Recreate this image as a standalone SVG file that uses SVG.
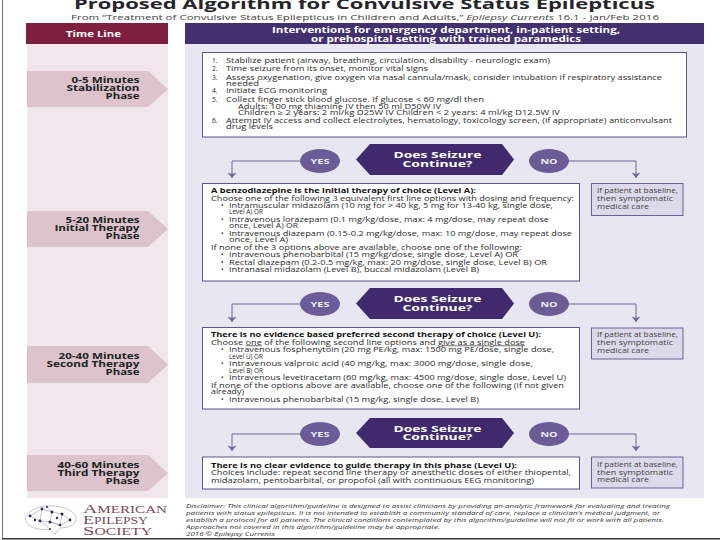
<svg xmlns="http://www.w3.org/2000/svg" width="720" height="540" viewBox="0 0 720 540">
<style>
text{font-family:"Open Sans","DejaVu Sans",sans-serif;fill:#2b2b2b}
.t{font-size:6.7px}
.b{font-size:6.9px;font-weight:700;fill:#111}
.s{font-size:7px;fill:#444}
.d{font-size:5.9px;font-style:italic;fill:#333}
.ph{font-size:8.3px;font-weight:700;text-anchor:end;fill:#222}
.hd{font-size:8.200px;font-weight:700;fill:#fff;text-anchor:middle}
.hx{font-size:9.200px;font-weight:700;fill:#fff;text-anchor:middle}
.yn{font-size:7.500px;font-weight:700;fill:#f0eef6}
.box{fill:#fff;stroke:#5d5486;stroke-width:1}
.side{fill:#dcd9ea;stroke:#6a6392;stroke-width:1}
.hex{fill:#40296c}
.el{fill:#6b5c98}
.arr{fill:#dcc3cc}
.c{fill:none;stroke:#6f6996;stroke-width:1;marker-end:url(#ah)}
.lg{font-family:"Liberation Serif",serif;fill:#7a4a5e}
.n{fill:#2f2a5c}
.w{fill:none;stroke:#8a87a8;stroke-width:.5}
</style>
<defs>
<marker id="ah" markerUnits="userSpaceOnUse" markerWidth="10" markerHeight="8" refX="4.5" refY="7" orient="0" overflow="visible"><path d="M0 1.5 L4.5 3 L9 1.5 L4.5 7Z" fill="#6f6996"/></marker>
</defs>
<rect width="720" height="540" fill="#fff"/>
<path d="M2.500 0V538" stroke="#777" stroke-width="1" fill="none"/>
<path d="M2 538.700H720" stroke="#333" stroke-width="1.500" fill="none"/>

<g id="title">
<text x="74" y="9" font-size="14.500" font-weight="700" textLength="581" lengthAdjust="spacingAndGlyphs" style="fill:#26262a">Proposed Algorithm for Convulsive Status Epilepticus</text>
<text x="71" y="19.500" font-size="7.200" textLength="588" lengthAdjust="spacingAndGlyphs" style="fill:#444">From “Treatment of Convulsive Status Epilepticus in Children and Adults,” <tspan font-style="italic">Epilepsy Currents</tspan> 16.1 - Jan/Feb 2016</text>
</g>

<g id="timeline">
<rect x="27" y="44" width="141" height="454" fill="#f1e6eb"/>
<rect x="26" y="23" width="142" height="21" fill="#7f1f3f"/>
<text class="hd" x="93.500" y="37" textLength="55" lengthAdjust="spacingAndGlyphs">Time Line</text>
</g>
<g id="interventions">
<rect x="185" y="44" width="519" height="454" fill="#e8e6f1"/>
<rect x="185" y="23" width="519" height="21" fill="#43306f"/>
<text class="hd" x="446" y="33" textLength="348" lengthAdjust="spacingAndGlyphs">Interventions for emergency department, in-patient setting,</text>
<text class="hd" x="446" y="41.500" textLength="270" lengthAdjust="spacingAndGlyphs">or prehospital setting with trained paramedics</text>
</g>

<g id="phase-1"><path class="arr" d="M27 71H148L168 89L148 107H27Z"/>
<text class="ph" x="139.500" y="83" textLength="68" lengthAdjust="spacingAndGlyphs">0-5 Minutes</text><text class="ph" x="139.500" y="91" textLength="73" lengthAdjust="spacingAndGlyphs">Stabilization</text><text class="ph" x="139.500" y="99" textLength="34" lengthAdjust="spacingAndGlyphs">Phase</text></g>
<g id="phase-2"><path class="arr" d="M27 211H148L168 229L148 247H27Z"/>
<text class="ph" x="139.500" y="223" textLength="74" lengthAdjust="spacingAndGlyphs">5-20 Minutes</text><text class="ph" x="139.500" y="231" textLength="85" lengthAdjust="spacingAndGlyphs">Initial Therapy</text><text class="ph" x="139.500" y="239" textLength="34" lengthAdjust="spacingAndGlyphs">Phase</text></g>
<g id="phase-3"><path class="arr" d="M27 346H148L168 364.500L148 383H27Z"/>
<text class="ph" x="139.500" y="359" textLength="81" lengthAdjust="spacingAndGlyphs">20-40 Minutes</text><text class="ph" x="139.500" y="367" textLength="93" lengthAdjust="spacingAndGlyphs">Second Therapy</text><text class="ph" x="139.500" y="375" textLength="34" lengthAdjust="spacingAndGlyphs">Phase</text></g>
<g id="phase-4"><path class="arr" d="M27 455H148L168 473L148 491H27Z"/>
<text class="ph" x="139.500" y="468" textLength="82" lengthAdjust="spacingAndGlyphs">40-60 Minutes</text><text class="ph" x="139.500" y="476" textLength="82" lengthAdjust="spacingAndGlyphs">Third Therapy</text><text class="ph" x="139.500" y="484" textLength="34" lengthAdjust="spacingAndGlyphs">Phase</text></g>

<g id="connectors">
<path class="c" d="M302 161H232V178"/>
<path class="c" d="M567 161H636V178"/>
<path class="c" d="M302 304H232V322"/>
<path class="c" d="M567 304H636V322"/>
<path class="c" d="M302 434H232V451"/>
<path class="c" d="M567 434H636V451"/>
</g>

<g id="stabilize"><rect class="box" x="202.500" y="52.500" width="484" height="84.500"/>
<text class="t" x="212" y="63">1.</text><text class="t" x="226" y="63" textLength="324" lengthAdjust="spacingAndGlyphs">Stabilize patient (airway, breathing, circulation, disability - neurologic exam)</text>
<text class="t" x="212" y="71">2.</text><text class="t" x="226" y="71" textLength="202" lengthAdjust="spacingAndGlyphs">Time seizure from its onset, monitor vital signs</text>
<text class="t" x="212" y="80">3.</text><text class="t" x="226" y="80" textLength="436" lengthAdjust="spacingAndGlyphs">Assess oxygenation, give oxygen via nasal cannula/mask, consider intubation if respiratory assistance</text>
<text class="t" x="226" y="85.500" textLength="33" lengthAdjust="spacingAndGlyphs">needed</text>
<text class="t" x="212" y="93">4.</text><text class="t" x="226" y="93" textLength="101" lengthAdjust="spacingAndGlyphs">Initiate ECG monitoring</text>
<text class="t" x="212" y="102">5.</text><text class="t" x="226" y="102" textLength="258" lengthAdjust="spacingAndGlyphs">Collect finger stick blood glucose. If glucose &lt; 60 mg/dl then</text>
<text class="t" x="238" y="108.500" textLength="203" lengthAdjust="spacingAndGlyphs">Adults: 100 mg thiamine IV then 50 ml D50W IV</text>
<text class="t" x="238" y="115" textLength="322" lengthAdjust="spacingAndGlyphs">Children ≥ 2 years: 2 ml/kg D25W IV   Children &lt; 2 years: 4 ml/kg D12.5W IV</text>
<text class="t" x="212" y="123">6.</text><text class="t" x="226" y="123" textLength="446" lengthAdjust="spacingAndGlyphs">Attempt IV access and collect electrolytes, hematology, toxicology screen, (if appropriate) anticonvulsant</text>
<text class="t" x="226" y="128.500" textLength="47" lengthAdjust="spacingAndGlyphs">drug levels</text></g>

<g id="q1"><path class="hex" d="M356 159.500L370 144H502L514 159.500L502 175H370Z"/>
<text class="hx" x="437.500" y="158" textLength="88" lengthAdjust="spacingAndGlyphs">Does Seizure</text><text class="hx" x="437.500" y="166.500" textLength="70" lengthAdjust="spacingAndGlyphs">Continue?</text></g>
<g id="yes-1"><ellipse class="el" cx="320" cy="161" rx="20" ry="12"/><text class="yn" x="310.500" y="164" textLength="19" lengthAdjust="spacingAndGlyphs">YES</text></g>
<g id="no-1"><ellipse class="el" cx="549" cy="161" rx="20" ry="12"/><text class="yn" x="540.500" y="164" textLength="17" lengthAdjust="spacingAndGlyphs">NO</text></g>

<g id="initial"><rect class="box" x="202.500" y="183.500" width="377" height="97.500"/>
<text class="b" x="211" y="193" textLength="265" lengthAdjust="spacingAndGlyphs">A benzodiazepine is the initial therapy of choice (Level A):</text>
<text class="t" x="211" y="200.500" textLength="363" lengthAdjust="spacingAndGlyphs">Choose one of the following 3 equivalent first line options with dosing and frequency:</text>
<text class="t" x="221" y="208">•</text><text class="t" x="229" y="208" textLength="324" lengthAdjust="spacingAndGlyphs">Intramuscular midazolam (10 mg for &gt; 40 kg, 5 mg for 13-40 kg, single dose,</text>
<text class="t" x="229" y="213.500" textLength="34" lengthAdjust="spacingAndGlyphs">Level A) OR</text>
<text class="t" x="221" y="222">•</text><text class="t" x="229" y="222" textLength="320" lengthAdjust="spacingAndGlyphs">Intravenous lorazepam (0.1 mg/kg/dose, max: 4 mg/dose, may repeat dose</text>
<text class="t" x="229" y="227.500" textLength="69" lengthAdjust="spacingAndGlyphs">once, Level A) OR</text>
<text class="t" x="221" y="236">•</text><text class="t" x="229" y="236" textLength="343" lengthAdjust="spacingAndGlyphs">Intravenous diazepam (0.15-0.2 mg/kg/dose, max: 10 mg/dose, may repeat dose</text>
<text class="t" x="229" y="241.500" textLength="59" lengthAdjust="spacingAndGlyphs">once, Level A)</text>
<text class="t" x="211" y="249.500" textLength="311" lengthAdjust="spacingAndGlyphs">If none of the 3 options above are available, choose one of the following:</text>
<text class="t" x="221" y="257">•</text><text class="t" x="229" y="257" textLength="289" lengthAdjust="spacingAndGlyphs">Intravenous phenobarbital (15 mg/kg/dose, single dose, Level A) OR</text>
<text class="t" x="221" y="264.500">•</text><text class="t" x="229" y="264.500" textLength="318" lengthAdjust="spacingAndGlyphs">Rectal diazepam (0.2-0.5 mg/kg, max: 20 mg/dose, single dose, Level B) OR</text>
<text class="t" x="221" y="272">•</text><text class="t" x="229" y="272" textLength="250" lengthAdjust="spacingAndGlyphs">Intranasal midazolam (Level B), buccal midazolam (Level B)</text></g>
<g id="side-1"><rect class="side" x="591.500" y="183.500" width="91.500" height="32"/>
<text class="s" x="597" y="192.500" textLength="81" lengthAdjust="spacingAndGlyphs">If patient at baseline,</text><text class="s" x="597" y="200.500" textLength="76" lengthAdjust="spacingAndGlyphs">then symptomatic</text><text class="s" x="597" y="208.500" textLength="52" lengthAdjust="spacingAndGlyphs">medical care</text></g>

<g id="q2"><path class="hex" d="M356 303.500L370 288H502L514 303.500L502 319H370Z"/>
<text class="hx" x="437.500" y="302" textLength="88" lengthAdjust="spacingAndGlyphs">Does Seizure</text><text class="hx" x="437.500" y="310.500" textLength="70" lengthAdjust="spacingAndGlyphs">Continue?</text></g>
<g id="yes-2"><ellipse class="el" cx="320" cy="304" rx="20" ry="12"/><text class="yn" x="310.500" y="307" textLength="19" lengthAdjust="spacingAndGlyphs">YES</text></g>
<g id="no-2"><ellipse class="el" cx="549" cy="304" rx="20" ry="12"/><text class="yn" x="540.500" y="307" textLength="17" lengthAdjust="spacingAndGlyphs">NO</text></g>

<g id="second"><rect class="box" x="202.500" y="327.500" width="377" height="81.500"/>
<text class="b" x="211" y="337" textLength="330" lengthAdjust="spacingAndGlyphs">There is no evidence based preferred second therapy of choice (Level U):</text>
<text class="t" x="211" y="344.500" textLength="314" lengthAdjust="spacingAndGlyphs">Choose <tspan text-decoration="underline">one</tspan> of the following second line options and <tspan text-decoration="underline">give as a single dose</tspan></text>
<text class="t" x="221" y="352">•</text><text class="t" x="229" y="352" textLength="325" lengthAdjust="spacingAndGlyphs">Intravenous fosphenytoin (20 mg PE/kg, max: 1500 mg PE/dose, single dose,</text>
<text class="t" x="229" y="358.500" textLength="34" lengthAdjust="spacingAndGlyphs">Level U) OR</text>
<text class="t" x="221" y="366">•</text><text class="t" x="229" y="366" textLength="304" lengthAdjust="spacingAndGlyphs">Intravenous valproic acid (40 mg/kg, max: 3000 mg/dose, single dose,</text>
<text class="t" x="229" y="372.500" textLength="34" lengthAdjust="spacingAndGlyphs">Level B) OR</text>
<text class="t" x="221" y="380">•</text><text class="t" x="229" y="380" textLength="337" lengthAdjust="spacingAndGlyphs">Intravenous levetiracetam (60 mg/kg, max: 4500 mg/dose, single dose, Level U)</text>
<text class="t" x="211" y="387.500" textLength="353" lengthAdjust="spacingAndGlyphs">If none of the options above are available, choose one of the following (if not given</text>
<text class="t" x="211" y="393.500" textLength="33" lengthAdjust="spacingAndGlyphs">already)</text>
<text class="t" x="221" y="402">•</text><text class="t" x="229" y="402" textLength="250" lengthAdjust="spacingAndGlyphs">Intravenous phenobarbital (15 mg/kg, single dose, Level B)</text></g>
<g id="side-2"><rect class="side" x="591.500" y="328" width="91.500" height="31"/>
<text class="s" x="597" y="337" textLength="81" lengthAdjust="spacingAndGlyphs">If patient at baseline,</text><text class="s" x="597" y="344.500" textLength="76" lengthAdjust="spacingAndGlyphs">then symptomatic</text><text class="s" x="597" y="352.500" textLength="52" lengthAdjust="spacingAndGlyphs">medical care</text></g>

<g id="q3"><path class="hex" d="M356 433L370 418H502L514 433L502 448H370Z"/>
<text class="hx" x="437.500" y="431.500" textLength="88" lengthAdjust="spacingAndGlyphs">Does Seizure</text><text class="hx" x="437.500" y="440" textLength="70" lengthAdjust="spacingAndGlyphs">Continue?</text></g>
<g id="yes-3"><ellipse class="el" cx="320" cy="434" rx="20" ry="12"/><text class="yn" x="310.500" y="437" textLength="19" lengthAdjust="spacingAndGlyphs">YES</text></g>
<g id="no-3"><ellipse class="el" cx="549" cy="434" rx="20" ry="12"/><text class="yn" x="540.500" y="437" textLength="17" lengthAdjust="spacingAndGlyphs">NO</text></g>

<g id="third"><rect class="box" x="202.500" y="457" width="377" height="32"/>
<text class="b" x="211" y="467.500" textLength="306" lengthAdjust="spacingAndGlyphs">There is no clear evidence to guide therapy in this phase (Level U):</text>
<text class="t" x="211" y="475" textLength="360" lengthAdjust="spacingAndGlyphs">Choices include: repeat second line therapy or anesthetic doses of either thiopental,</text>
<text class="t" x="211" y="482.500" textLength="323" lengthAdjust="spacingAndGlyphs">midazolam, pentobarbital, or propofol (all with continuous EEG monitoring)</text></g>
<g id="side-3"><rect class="side" x="591.500" y="457" width="91.500" height="31"/>
<text class="s" x="597" y="466.500" textLength="81" lengthAdjust="spacingAndGlyphs">If patient at baseline,</text><text class="s" x="597" y="474.500" textLength="76" lengthAdjust="spacingAndGlyphs">then symptomatic</text><text class="s" x="597" y="482" textLength="52" lengthAdjust="spacingAndGlyphs">medical care</text></g>

<g id="disclaimer">
<text class="d" x="186" y="507.500" textLength="484" lengthAdjust="spacingAndGlyphs">Disclaimer: This clinical algorithm/guideline is designed to assist clinicians by providing an analytic framework for evaluating and treating</text>
<text class="d" x="186" y="514.500" textLength="474" lengthAdjust="spacingAndGlyphs">patients with status epilepticus. It is not intended to establish a community standard of care, replace a clinician's medical judgment, or</text>
<text class="d" x="186" y="521.500" textLength="478" lengthAdjust="spacingAndGlyphs">establish a protocol for all patients. The clinical conditions contemplated by this algorithm/guideline will not fit or work with all patients.</text>
<text class="d" x="186" y="528.500" textLength="254" lengthAdjust="spacingAndGlyphs">Approaches not covered in this algorithm/guideline may be appropriate.</text>
<text class="d" x="186" y="536" textLength="89" lengthAdjust="spacingAndGlyphs">2016 © Epilepsy Currents</text>
</g>

<g id="logo">
<path class="w" d="M25 518C28 510 40 505 52 506C66 506 76 512 76 519C76 525 68 528 60 528L55 534L50 529C38 531 26 527 25 518Z"/>
<path class="w" d="M30 516L42 509L52 512L62 514L70 520L60 525L50 522L40 521L30 516M42 509L40 521L50 529M52 512L50 522L60 525M62 514L60 525M47 507L52 512"/>
<circle class="n" cx="30" cy="516" r="1.400"/><circle class="n" cx="35" cy="520" r="1.200"/><circle class="n" cx="42" cy="509" r="1.400"/><circle class="n" cx="47" cy="507" r="1.100"/><circle class="n" cx="52" cy="512" r="1.500"/><circle class="n" cx="62" cy="514" r="1.500"/><circle class="n" cx="70" cy="520" r="1.400"/><circle class="n" cx="60" cy="525" r="1.300"/><circle class="n" cx="50" cy="522" r="1.500"/><circle class="n" cx="40" cy="521" r="1.400"/><circle class="n" cx="50" cy="529" r="1"/><circle class="n" cx="57" cy="518" r="1.200"/>
<text class="lg" x="83" y="512.500" font-size="9.500" textLength="84" lengthAdjust="spacingAndGlyphs"><tspan font-size="12.500">A</tspan>MERICAN</text>
<text class="lg" x="83" y="523.500" font-size="9.500" textLength="65" lengthAdjust="spacingAndGlyphs"><tspan font-size="12.500">E</tspan>PILEPSY</text>
<text class="lg" x="83" y="534.500" font-size="9.500" textLength="69" lengthAdjust="spacingAndGlyphs"><tspan font-size="12.500">S</tspan>OCIETY</text>
</g>
</svg>
